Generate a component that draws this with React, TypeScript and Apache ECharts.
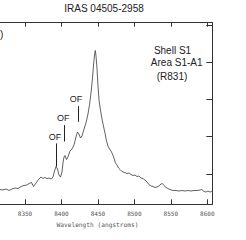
import React, { useEffect, useRef } from "react";
import * as echarts from "echarts";

const wavelengths = [
  8315.7, 8319.8, 8323.9, 8328.1, 8332.2, 8336.3, 8340.4, 8344.5, 8348.6, 8352.7,
  8355.5, 8358.9, 8361.7, 8365.1, 8368.5, 8371.9, 8374.7, 8377.4, 8380.2, 8382.9,
  8386.3, 8388.4, 8390.5, 8392.5, 8394.6, 8396.6, 8398.7, 8400.7, 8402.1, 8403.5,
  8404.8, 8406.9, 8408.9, 8411.7, 8414.4, 8417.2, 8419.9, 8422.0, 8424.0, 8426.1,
  8428.2, 8430.2, 8432.3, 8434.3, 8436.4, 8438.4, 8440.5, 8442.6, 8443.9, 8445.3,
  8446.4, 8447.4, 8448.7, 8450.1, 8451.5, 8453.5, 8455.6, 8457.6, 8459.7, 8461.8,
  8463.8, 8465.9, 8467.9, 8470.0, 8472.0, 8474.1, 8476.2, 8478.2, 8480.3, 8482.3,
  8484.4, 8487.1, 8489.9, 8492.6, 8495.4, 8498.1, 8500.8, 8503.6, 8506.3, 8509.1,
  8511.8, 8514.6, 8517.3, 8520.0, 8522.8, 8525.5, 8528.3, 8531.0, 8533.7, 8536.5,
  8538.5, 8540.6, 8543.4, 8546.1, 8548.8, 8553.0, 8557.1, 8561.2, 8565.3, 8569.4,
  8573.5, 8577.6, 8581.7, 8585.9, 8590.0, 8592.7, 8595.5, 8598.2, 8600.9, 8603.7,
  8606.4,
];

const flux = [
  0.584, 0.571, 0.598, 0.558, 0.598, 0.625, 0.611, 0.665, 0.692, 0.705,
  0.745, 0.772, 0.665, 0.759, 0.853, 0.92, 0.879, 0.906, 0.879, 0.893,
  0.866, 0.92, 1.08, 1.201, 1.134, 0.973, 0.92, 1.054, 1.295, 1.456,
  1.496, 1.389, 1.456, 1.617, 1.67, 1.777, 1.992, 2.126, 2.072, 1.965,
  2.019, 2.153, 2.287, 2.421, 2.609, 2.85, 3.172, 3.574, 3.895, 4.19,
  4.311, 4.164, 3.842, 3.359, 2.984, 2.716, 2.475, 2.287, 2.099, 1.885,
  1.751, 1.67, 1.617, 1.536, 1.429, 1.295, 1.241, 1.161, 1.121, 1.08,
  1.054, 1.04, 1.013, 1.027, 0.987, 0.96, 0.973, 0.933, 0.946, 0.893,
  0.879, 0.839, 0.786, 0.718, 0.678, 0.665, 0.638, 0.651, 0.678, 0.732,
  0.745, 0.692, 0.638, 0.611, 0.584, 0.558, 0.558, 0.544, 0.558, 0.544,
  0.558, 0.544, 0.558, 0.558, 0.571, 0.584, 0.531, 0.517, 0.544, 0.517,
  0.531,
];

const xTicks = [8350, 8400, 8450, 8500, 8550, 8600];
const yTicks = [1, 2, 3, 4, 5];
// [wavelength, bottom value, top value]
const ofLines = [
  [8392.5, 1.2, 1.82],
  [8403.9, 1.87, 2.31],
  [8422.7, 2.4, 2.82],
];
// [wavelength, value]
const ofLabels = [
  [8391.1, 2.0],
  [8402.5, 2.51],
  [8419.9, 3.01],
];
const chartTitle = "IRAS 04505-2958";
const xTitle = "Wavelength (angstroms)";
const infoLines = ["Shell S1", "Area S1-A1", "(R831)"];

const SANS = "'Liberation Sans', Arial, sans-serif";
const MONO = "'DejaVu Sans Mono', 'Liberation Mono', monospace";

export default function App() {
  const ref = useRef<HTMLDivElement>(null);
  useEffect(() => {
    if (!ref.current) return;
    const chart = echarts.init(ref.current, undefined, { renderer: "svg" });
    const data = wavelengths.map((w, i) => [w, flux[i]]);
    const axisLine = { show: true, lineStyle: { color: "#333", width: 1 } };
    chart.setOption({
      animation: false,
      backgroundColor: "#fff",
      grid: { left: 0, right: 33.7, top: 22.7, bottom: 35.7, containLabel: false },
      xAxis: [
        {
          type: "value",
          position: "bottom",
          min: 8315.7,
          max: 8606.9,
          axisLine,
          axisTick: { show: true, inside: true, length: 5, customValues: xTicks, lineStyle: { color: "#333" } },
          axisLabel: {
            show: true,
            customValues: xTicks,
            formatter: (v: number) => String(Math.round(v)),
            margin: 6,
            fontSize: 6,
            fontFamily: MONO,
            color: "#555555",
          },
          splitLine: { show: false },
        },
        {
          type: "value",
          position: "top",
          min: 8315.7,
          max: 8606.9,
          axisLine,
          axisTick: { show: true, inside: true, length: 4, customValues: xTicks, lineStyle: { color: "#333" } },
          axisLabel: { show: false },
          splitLine: { show: false },
        },
      ],
      yAxis: [
        {
          type: "value",
          position: "right",
          min: 0.188,
          max: 5.056,
          axisLine,
          axisTick: { show: true, inside: true, length: 6, customValues: yTicks, lineStyle: { color: "#333" } },
          axisLabel: { show: false },
          splitLine: { show: false },
        },
      ],
      series: [
        {
          type: "line",
          xAxisIndex: 0,
          yAxisIndex: 0,
          data,
          showSymbol: false,
          symbol: "none",
          lineStyle: { color: "#3a3a3a", width: 0.8 },
          markLine: {
            silent: true,
            symbol: ["none", "none"],
            label: { show: false },
            lineStyle: { color: "#222222", width: 1, type: "solid" },
            data: ofLines.map(([w, a, b]) => [{ coord: [w, a] }, { coord: [w, b] }]),
          },
          markPoint: {
            silent: true,
            symbol: "circle",
            symbolSize: 0,
            itemStyle: { color: "#222222" },
            label: {
              show: true,
              position: "inside",
              formatter: "OF",
              fontSize: 9,
              fontFamily: SANS,
              color: "#222222",
            },
            data: ofLabels.map(([w, v]) => ({ coord: [w, v], value: "OF" })),
          },
        },
      ],
      graphic: [
        {
          type: "text",
          x: 104,
          y: 8.5,
          style: {
            text: chartTitle,
            fontSize: 10,
            fontFamily: SANS,
            fill: "#222222",
            textAlign: "center",
            textVerticalAlign: "middle",
          },
        },
        {
          type: "text",
          x: 0,
          y: 34,
          style: {
            text: ")",
            fontSize: 10,
            fontFamily: SANS,
            fill: "#222222",
            textAlign: "left",
            textVerticalAlign: "middle",
          },
        },
        ...infoLines.map((t, i) => ({
          type: "text",
          x: [172.5, 176.7, 172][i],
          y: [50, 62.7, 76][i],
          style: {
            text: t,
            fontSize: 10,
            fontFamily: SANS,
            fill: "#222222",
            textAlign: "center",
            textVerticalAlign: "middle",
          },
        })),
        {
          type: "text",
          x: 97.5,
          y: 224,
          style: {
            text: xTitle,
            fontSize: 6.2,
            fontFamily: MONO,
            fill: "#555555",
            textAlign: "center",
            textVerticalAlign: "middle",
          },
        },
      ],
    });
    return () => chart.dispose();
  }, []);
  return (
    <div
      ref={ref}
      style={{ position: "fixed", left: 0, top: 0, width: 246, height: 240, background: "#fff" }}
    />
  );
}
